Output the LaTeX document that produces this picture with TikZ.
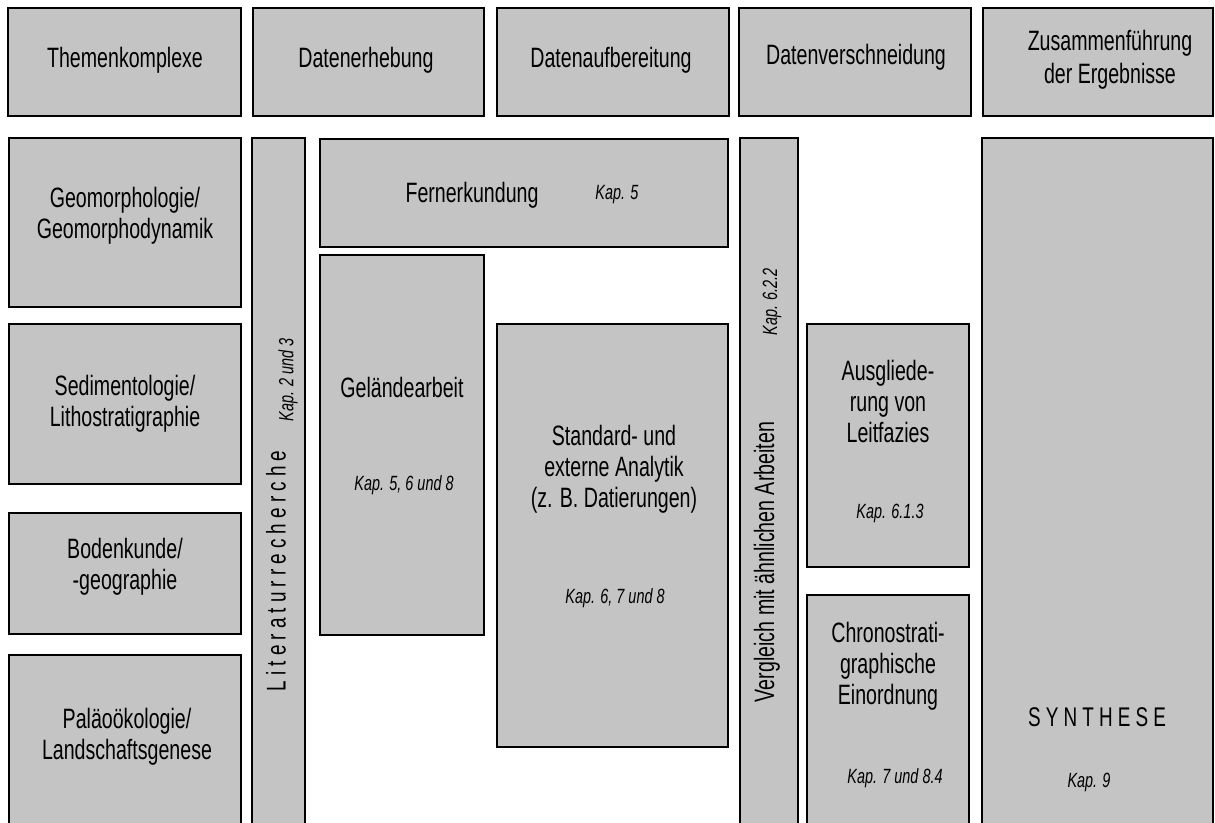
\documentclass[tikz,border=0pt]{standalone}
\usepackage{fontspec}
\setmainfont{Liberation Sans}[FakeStretch=0.70]
\usetikzlibrary{fit}
\definecolor{boxgray}{RGB}{196,196,196}
\tikzset{
  box/.style={draw, fill=boxgray, line width=1.3pt, inner sep=0pt},
  title/.style={align=center, font=\fontsize{14}{15.5}\selectfont},
  kap/.style={font=\fontsize{10.3}{12}\selectfont\itshape},
  spaced/.style={font=\fontsize{13.5}{15.5}\selectfont\addfontfeatures{LetterSpace=19}}
}

\begin{document}
\begin{tikzpicture}[x=0.5pt, y=-0.5pt]
        \clip (0,0) rectangle (1215,823);
        % Kopfzeile
        \node[box, fit={(8,8) (241,116)}] (hthemen) {};
        \node[box, fit={(253,8) (484,116)}] (herheb) {};
        \node[box, fit={(497,8) (729,116)}] (haufb) {};
        \node[box, fit={(739,8) (971,116)}] (hversch) {};
        \node[box, fit={(983,8) (1213,116)}] (hzus) {};
        \node[title] (thema) at (125,60) {Themenkomplexe};
        \node[title] (terheb) at (366,60) {Datenerhebung};
        \node[title] (taufb) at (611,60) {Datenaufbereitung};
        \node[title] (tversch) at (856,57) {Datenverschneidung};
        \node[title, font=\fontsize{14}{16.5}\selectfont] (tzus) at (1110,60) {Zusammenführung\\der Ergebnisse};
        % Themenkomplexe
        \node[box, fit={(9,138) (241,307)}] (geo) {};
        \node[box, fit={(9,324) (241,484)}] (sed) {};
        \node[box, fit={(9,513) (241,634)}] (boden) {};
        \node[box, fit={(9,655) (241,850)}] (palaeo) {};
        \node[title] (tgeo) at (125,216) {Geomorphologie/\\Geomorphodynamik};
        \node[title] (tsed) at (125,404) {Sedimentologie/\\Lithostratigraphie};
        \node[title] (tboden) at (125,567) {Bodenkunde/\\-geographie};
        \node[title] (tpalaeo) at (127,737) {Paläoökologie/\\Landschaftsgenese};
        % Datenerhebung
        \node[box, fit={(252,138) (305,850)}] (lit) {};
        \node[spaced, rotate=90] (tlit) at (276,571) {Literaturrecherche};
        \node[kap, rotate=90] (klit) at (288,380) {Kap. 2 und 3};
        \node[box, fit={(320,139) (728,247)}] (fern) {};
        \node[title] (tfern) at (472,195) {Fernerkundung};
        \node[kap] (kfern) at (617,195) {Kap. 5};
        \node[box, fit={(320,255) (484,635)}] (gelaende) {};
        \node[title] (tgel) at (402,387) {Geländearbeit};
        \node[kap] (kgel) at (404,485) {Kap. 5, 6 und 8};
        % Datenaufbereitung
        \node[box, fit={(497,324) (728,747)}] (analytik) {};
        \node[title] (tana) at (614,469) {Standard- und\\externe Analytik\\(z. B. Datierungen)};
        \node[kap] (kana) at (615,598) {Kap. 6, 7 und 8};
        % Datenverschneidung
        \node[box, fit={(740,138) (798,850)}] (vergl) {};
        \node[title, rotate=90] (tvergl) at (767,562) {Vergleich mit ähnlichen Arbeiten};
        \node[kap, rotate=90] (kvergl) at (772,302) {Kap. 6.2.2};
        \node[box, fit={(807,324) (969,567)}] (leitf) {};
        \node[title] (tleitf) at (888,401) {Ausgliede-\\rung von\\Leitfazies};
        \node[kap] (kleitf) at (890,513) {Kap. 6.1.3};
        \node[box, fit={(807,595) (969,850)}] (chrono) {};
        \node[title] (tchrono) at (888,666) {Chronostrati-\\graphische\\Einordnung};
        \node[kap] (kchrono) at (895,778) {Kap. 7 und 8.4};
        % Synthese
        \node[box, fit={(982,138) (1213,850)}] (synth) {};
        \node[spaced] (tsynth) at (1097,717) {SYNTHESE};
        \node[kap] (ksynth) at (1089,782) {Kap. 9};
    \end{tikzpicture}
\end{document}
